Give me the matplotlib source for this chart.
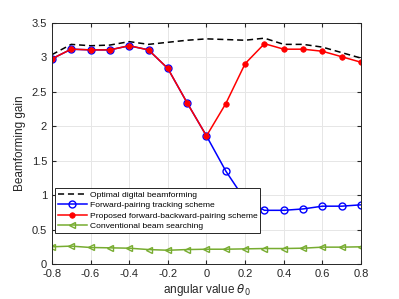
import matplotlib
matplotlib.use("Agg")
import matplotlib.pyplot as plt

# Datos
theta = [-0.8, -0.7, -0.6, -0.5, -0.4, -0.3, -0.2, -0.1, 0.0,
         0.1, 0.2, 0.3, 0.4, 0.5, 0.6, 0.7, 0.8]
optimo = [3.04, 3.19, 3.17, 3.18, 3.23, 3.19, 3.22, 3.25, 3.27,
          3.26, 3.25, 3.28, 3.19, 3.19, 3.15, 3.07, 2.99]
propuesto = [2.98, 3.12, 3.11, 3.11, 3.17, 3.11, 2.84, 2.34, 1.86,
             2.33, 2.91, 3.20, 3.12, 3.12, 3.09, 3.01, 2.93]
adelante = [2.98, 3.12, 3.11, 3.11, 3.17, 3.11, 2.84, 2.34, 1.86,
            1.35, 0.93, 0.78, 0.78, 0.80, 0.84, 0.84, 0.86]
convencional = [0.25, 0.26, 0.24, 0.235, 0.23, 0.21, 0.20, 0.21, 0.215,
                0.215, 0.22, 0.225, 0.225, 0.23, 0.245, 0.245, 0.25]

plt.rcParams["font.family"] = ["Liberation Sans", "DejaVu Sans"]
plt.rcParams["mathtext.fontset"] = "dejavusans"

fig = plt.figure(figsize=(3.99, 2.99), dpi=100)
ax = fig.add_axes([0.130, 0.117, 0.775, 0.806])

ax.plot(theta, optimo, "--", color="black", linewidth=1.1,
        dashes=(4, 2.5), label="Optimal digital beamforming")
ax.plot(theta, adelante, "-o", color="#0000ff", linewidth=1.1,
        markersize=5, markerfacecolor="none", markeredgewidth=1.0,
        label="Forward-pairing tracking scheme")
ax.plot(theta, propuesto, "-o", color="#ff0000", linewidth=1.1,
        markersize=4, markerfacecolor="#ff0000", markeredgewidth=0.5,
        label="Proposed forward-backward-pairing scheme")
ax.plot(theta, convencional, "-<", color="#77ac30", linewidth=1.1,
        markersize=5, markerfacecolor="none", markeredgewidth=1.0,
        label="Conventional beam searching")

ax.set_xlim(-0.8, 0.8)
ax.set_ylim(0, 3.5)
ax.set_xticks([-0.8, -0.6, -0.4, -0.2, 0, 0.2, 0.4, 0.6, 0.8])
ax.set_xticklabels(["-0.8", "-0.6", "-0.4", "-0.2", "0", "0.2", "0.4", "0.6", "0.8"])
ax.set_yticks([0, 0.5, 1, 1.5, 2, 2.5, 3, 3.5])
ax.set_yticklabels(["0", "0.5", "1", "1.5", "2", "2.5", "3", "3.5"])
ax.grid(True, color="#e6e6e6", linewidth=0.7)
ax.set_axisbelow(True)
ax.tick_params(direction="in", labelsize=8, colors="#262626", length=3,
               top=True, right=True, labeltop=False, labelright=False)
for lado in ax.spines.values():
    lado.set_color("#262626")
    lado.set_linewidth(0.7)

ax.set_xlabel(r"angular value $\theta_0$", fontsize=8.5, color="#262626",
              labelpad=2)
ax.set_ylabel("Beamforming gain", fontsize=8.5, color="#262626", labelpad=4)

leg = ax.legend(loc="lower left", bbox_to_anchor=(0.01, 0.128), fontsize=6.1,
                frameon=True, fancybox=False, edgecolor="#262626",
                framealpha=1, borderpad=0.35, labelspacing=0.3,
                handlelength=3.4, handletextpad=0.35, borderaxespad=0)
leg.get_frame().set_linewidth(0.7)

fig.savefig("out.png", dpi=100)
